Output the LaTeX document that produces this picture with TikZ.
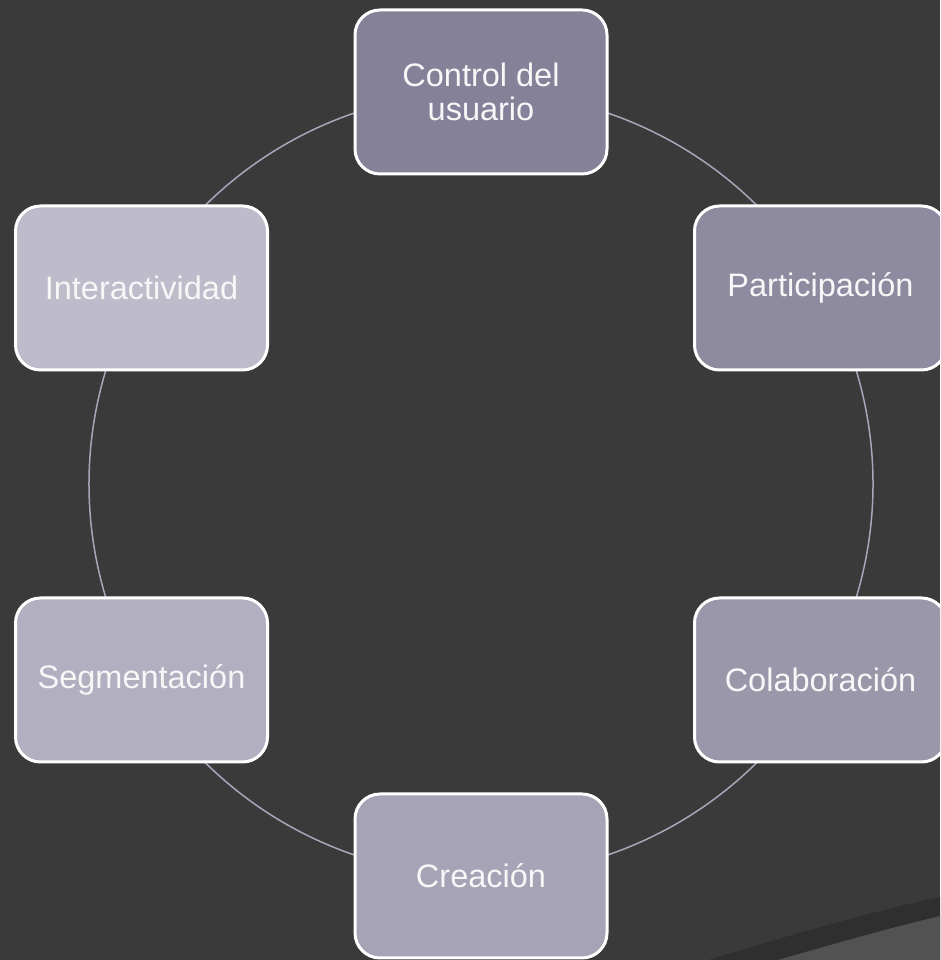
\documentclass[tikz,border=0pt]{standalone}
\usepackage{fontspec}
\setmainfont{Liberation Sans}
\pgfdeclarelayer{backfill}
\pgfdeclarelayer{ringlayer}
\pgfsetlayers{backfill,ringlayer,main}
\definecolor{bg}{HTML}{3A3A3A}
\definecolor{decolight}{HTML}{525252}
\definecolor{decodark}{HTML}{2F2F2F}
\definecolor{ring}{HTML}{A9A6BA}
\definecolor{cA}{RGB}{133,129,153}
\definecolor{cB}{RGB}{142,138,160}
\definecolor{cC}{RGB}{154,151,171}
\definecolor{cD}{RGB}{166,163,182}
\definecolor{cE}{RGB}{178,175,193}
\definecolor{cF}{RGB}{190,187,203}
\tikzset{
  box/.style={draw=white, line width=3pt, rounded corners=25pt,
    minimum width=252pt, minimum height=164pt, align=center,
    text=white!94!gray, font=\fontsize{32.5}{34}\selectfont, inner sep=0pt},
  link/.style={draw=ring, line width=1.5pt}
}
\begin{document}
\begin{tikzpicture}[x=1pt,y=1pt]
\useasboundingbox (0,0) rectangle (940,960);
\begin{pgfonlayer}{backfill}
\fill[bg] (0,0) rectangle (940,960);
% decoration bottom right
\fill[decodark] (708,0) .. controls (790,25) and (870,48) .. (940,63) -- (940,0) -- cycle;
\fill[decolight] (778,0) .. controls (840,18) and (890,32) .. (940,44) -- (940,0) -- cycle;
\end{pgfonlayer}
\clip (0,0) rectangle (940,960);
\node[box, fill=cA] (ctrl) at (481,868) {Control del\\usuario};
\node[box, fill=cB] (part) at (820.5,672) {Participación};
\node[box, fill=cC] (cola) at (820.5,280) {Colaboración};
\node[box, fill=cD] (crea) at (481,84) {Creación};
\node[box, fill=cE] (segm) at (141.5,280) {Segmentación};
\node[box, fill=cF] (inter) at (141.5,672) {Interactividad};
\begin{pgfonlayer}{ringlayer}
\draw[link] (ctrl.center) arc[start angle=90, end angle=30, radius=392];
\draw[link] (part.center) arc[start angle=30, end angle=-30, radius=392];
\draw[link] (cola.center) arc[start angle=-30, end angle=-90, radius=392];
\draw[link] (crea.center) arc[start angle=270, end angle=210, radius=392];
\draw[link] (segm.center) arc[start angle=210, end angle=150, radius=392];
\draw[link] (inter.center) arc[start angle=150, end angle=90, radius=392];
\end{pgfonlayer}
\end{tikzpicture}
\end{document}
